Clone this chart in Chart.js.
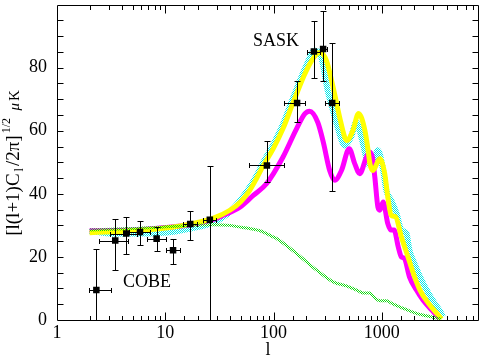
<!DOCTYPE html>
<html><head><meta charset="utf-8">
<script src="https://cdn.jsdelivr.net/npm/chart.js@4/dist/chart.umd.min.js"></script>
<style>html,body{margin:0;padding:0;background:#fff;}canvas{display:block;}</style>
</head><body>
<canvas id="c" width="487" height="362"></canvas>
<script>
// ---- data ----
const xTickLabels = [1, 10, 100, 1000];
const yTickLabels = [0, 20, 40, 60, 80];

const yellowL = [2, 3.3, 6.7, 11.9, 16.9, 27.5, 39.5, 50, 60, 70, 80, 100, 122, 152, 201, 250, 270, 308, 355, 408, 454, 475, 541, 610, 698, 747, 777, 828, 958, 1064, 1135, 1221, 1340, 1517, 1745, 1954, 2250, 2695, 3430, 3550];
const yellowY = [27.7, 28.0, 28.6, 29.5, 30.4, 32.2, 34.8, 37.6, 41.0, 45.0, 48.8, 54.5, 60.6, 69.0, 79.1, 84.3, 84.8, 82.2, 73.8, 64.3, 58.0, 56.9, 60.1, 65.5, 60.1, 53.8, 49.5, 47.4, 51.1, 46.4, 39.0, 33.2, 32.7, 26.3, 20.0, 14.8, 9.5, 5.3, 1.0, 0.3];

const magentaL = [2, 5, 10, 16.9, 27.5, 34.3, 48.9, 65, 86, 122, 163, 195, 215, 256, 288, 330, 367, 424, 500, 563, 625, 720, 770, 820, 862, 920, 958, 1030, 1135, 1221, 1300, 1418, 1517, 1620, 1800, 2090, 2400, 2880, 3300, 3400];
const magentaY = [28.3, 28.5, 29.3, 30.2, 31.8, 33.2, 35.8, 39.5, 43.2, 51.6, 60.6, 65.4, 66.2, 62.7, 56.4, 47.4, 44.3, 47.4, 54.3, 49.5, 46.4, 51.6, 53.3, 51.5, 45.3, 35.8, 34.8, 37.4, 30.6, 28.5, 28.5, 23.2, 20.0, 19.5, 13.7, 9.5, 6.3, 3.2, 1.0, 0.5];

const cyanL = [2, 3.3, 6.7, 10.3, 16.9, 27.5, 40, 56, 70, 80, 100, 122, 152, 200, 240, 270, 317, 360, 400, 454, 520, 580, 670, 747, 820, 920, 1030, 1100, 1221, 1370, 1517, 1690, 1800, 2000, 2330, 2700, 3070, 3540, 3650];
const cyanY = [28.2, 27.4, 27.4, 27.7, 29.0, 30.8, 34.5, 40.5, 45.8, 49.8, 55.8, 62.0, 70.5, 80.5, 85.4, 84.3, 72.7, 65.5, 60.0, 55.3, 58.0, 62.7, 55.9, 49.5, 49.0, 53.8, 47.4, 41.1, 37.9, 33.7, 28.5, 27.4, 22.1, 17.9, 12.6, 8.4, 5.3, 2.1, 1.0];

const greenL = [2, 5, 8, 17, 27.7, 39.5, 46, 60, 75, 100, 107, 163, 250, 355, 472, 600, 673, 775, 850, 959, 1110, 1250, 1575, 2090, 2980, 3540];
const greenY = [28.5, 29.0, 29.3, 30.0, 30.2, 30.0, 29.6, 29.0, 28.3, 26.3, 25.8, 21.1, 15.8, 12.1, 10.8, 9.3, 8.6, 8.6, 7.2, 6.1, 6.1, 5.2, 3.7, 2.1, 0.85, 0.3];

const ptL   = [2.31, 3.45, 4.36, 5.84, 8.32, 11.8, 17.0, 25.8, 86.8, 165, 236, 287, 348];
const ptY   = [9.5, 25.2, 27.4, 27.9, 25.8, 22.1, 30.4, 31.8, 49.0, 68.8, 85.1, 85.9, 68.8];
const ptYHi = [22.4, 32.1, 32.8, 31.5, 29.4, 25.8, 34.7, 48.8, 56.8, 75.8, 94.9, 97.9, 87.7];
const ptYLo = [0, 15.8, 20.8, 23.9, 22.0, 17.6, 25.3, 0, 43.7, 62.7, 76.7, 75.8, 40.9];
const ptLLo = [1.99, 2.42, 3.1, 4.6, 6.8, 10.1, 14.6, 22.4, 59, 124, 205, 268, 298];
const ptLHi = [3.15, 4.5, 5.5, 7.2, 10.1, 13.8, 19.5, 29.4, 126, 194, 268, 310, 405];

// ---- helpers ----
const zip = (xs, ys) => xs.map((v, i) => ({x: v, y: ys[i]}));
function checker(color) {
  const c = document.createElement('canvas'); c.width = 2; c.height = 2;
  const g = c.getContext('2d'); g.fillStyle = color;
  g.fillRect(0, 0, 1, 1); g.fillRect(1, 1, 1, 1);
  return g.createPattern(c, 'repeat');
}
const SERIF = "'Liberation Serif', 'Times New Roman', serif";
const isPow10 = v => Math.abs(Math.log10(v) - Math.round(Math.log10(v))) < 1e-9;

const decor = {
  id: 'decor',
  afterDatasetsDraw(chart) {
    const {ctx, scales: {x, y}} = chart;
    ctx.save();
    ctx.strokeStyle = '#000'; ctx.lineWidth = 1;
    ctx.beginPath();
    for (let i = 0; i < ptL.length; i++) {
      const px = Math.round(x.getPixelForValue(ptL[i])) + 0.5;
      const py = Math.round(y.getPixelForValue(ptY[i])) + 0.5;
      const yt = Math.round(y.getPixelForValue(ptYHi[i])) + 0.5;
      const yb = Math.round(y.getPixelForValue(ptYLo[i])) + 0.5;
      ctx.moveTo(px, yt); ctx.lineTo(px, yb);
      ctx.moveTo(px - 3, yt); ctx.lineTo(px + 3, yt);
      if (ptYLo[i] > 0) { ctx.moveTo(px - 3, yb); ctx.lineTo(px + 3, yb); }
      const xl = Math.round(x.getPixelForValue(ptLLo[i])) + 0.5;
      const xr = Math.round(x.getPixelForValue(ptLHi[i])) + 0.5;
      ctx.moveTo(xl, py); ctx.lineTo(xr, py);
      ctx.moveTo(xl, py - 2.5); ctx.lineTo(xl, py + 2.5);
      ctx.moveTo(xr, py - 2.5); ctx.lineTo(xr, py + 2.5);
    }
    ctx.stroke();
    ctx.restore();
  },
  afterDraw(chart) {
    const {ctx, scales: {x, y}} = chart;
    ctx.save();
    ctx.strokeStyle = '#000'; ctx.lineWidth = 1;
    const L = Math.round(x.getPixelForValue(x.min)) + 0.5, R = Math.round(x.getPixelForValue(x.max)) - 0.5;
    const T = Math.round(y.getPixelForValue(y.max)) + 0.5, B = Math.round(y.getPixelForValue(y.min)) + 0.5;
    ctx.beginPath();
    ctx.moveTo(L, T); ctx.lineTo(R, T); ctx.lineTo(R, B); ctx.lineTo(L, B); ctx.closePath();
    x.ticks.forEach(t => {
      const v = t.value;
      if (v <= x.min || v >= x.max) return;
      const px = Math.round(x.getPixelForValue(v)) + 0.5;
      const len = isPow10(v) ? 8 : 4.5;
      ctx.moveTo(px, B); ctx.lineTo(px, B - len);
      ctx.moveTo(px, T); ctx.lineTo(px, T + len);
    });
    y.ticks.forEach(t => {
      const v = t.value;
      if (v <= y.min || v >= y.max) return;
      const py = Math.round(y.getPixelForValue(v)) + 0.5;
      ctx.moveTo(L, py); ctx.lineTo(L + 6, py);
      ctx.moveTo(R, py); ctx.lineTo(R - 6, py);
    });
    ctx.stroke();

    ctx.fillStyle = '#000';
    ctx.textBaseline = 'alphabetic';
    ctx.font = '18px ' + SERIF;
    ctx.fillText('SASK', 253, 46);
    ctx.fillText('COBE', 123, 287);

    // x title
    ctx.textAlign = 'center'; ctx.textBaseline = 'middle';
    ctx.fillText('l', (L + R) / 2, 350);

    // y title with sub/superscripts
    const parts = [
      {t: '[l(l+1)C', f: '19px ' + SERIF, dy: 0},
      {t: 'l', f: '12px ' + SERIF, dy: 4},
      {t: '/2\u03C0]', f: '19px ' + SERIF, dy: 0},
      {t: '1/2', f: '12px ' + SERIF, dy: -9},
      {t: ' ', f: '14px ' + SERIF, dy: 0},
      {t: '\u03BC', f: 'italic 15px ' + SERIF, dy: 0},
      {t: 'K', f: '15px ' + SERIF, dy: 0}
    ];
    ctx.textAlign = 'left'; ctx.textBaseline = 'alphabetic';
    let total = 0;
    parts.forEach(p => { ctx.font = p.f; p.w = ctx.measureText(p.t).width + 2; total += p.w; });
    ctx.translate(19, 162);
    ctx.rotate(-Math.PI / 2);
    let cx = -total / 2;
    parts.forEach(p => { ctx.font = p.f; ctx.fillText(p.t, cx, p.dy); cx += p.w; });
    ctx.restore();
  }
};

new Chart(document.getElementById('c'), {
  type: 'line',
  data: {
    datasets: [
      {data: zip(ptL, ptY), showLine: false, pointStyle: 'rect', pointRadius: 4.6, pointHoverRadius: 4.6,
       backgroundColor: '#000', borderColor: '#000', borderWidth: 0, order: 0},
      {data: zip(greenL, greenY), borderColor: checker('#10d810'), borderWidth: 3, pointRadius: 0,
       cubicInterpolationMode: 'monotone', fill: false, order: 1},
      {data: zip(yellowL, yellowY), borderColor: '#ffff00', borderWidth: 5, pointRadius: 0,
       cubicInterpolationMode: 'monotone', fill: false, order: 2},
      {data: zip(magentaL, magentaY), borderColor: '#ff00ff', borderWidth: 5, pointRadius: 0,
       cubicInterpolationMode: 'monotone', fill: false, order: 3},
      {data: zip(cyanL, cyanY), borderColor: checker('#00e8e8'), borderWidth: 6, pointRadius: 0,
       cubicInterpolationMode: 'monotone', fill: false, order: 4}
    ]
  },
  options: {
    responsive: false, animation: false, devicePixelRatio: 1,
    layout: {padding: {left: 0, right: 8, top: 3.4, bottom: 0}},
    plugins: {legend: {display: false}, tooltip: {enabled: false}},
    scales: {
      x: {
        type: 'logarithmic', min: 1, max: 7900,
        grid: {display: false, drawTicks: false}, border: {display: false},
        ticks: {autoSkip: false, maxRotation: 0, padding: 2, color: '#000',
                font: {family: SERIF, size: 18},
                callback: v => (isPow10(v) && xTickLabels.includes(Math.round(v))) ? String(Math.round(v)) : ''},
        afterFit: s => { s.height = 42; s.paddingLeft = 0; s.paddingRight = 0; }
      },
      y: {
        type: 'linear', min: 0, max: 100,
        grid: {display: false, drawTicks: false}, border: {display: false},
        ticks: {stepSize: 5, autoSkip: false, padding: 10, color: '#000',
                font: {family: SERIF, size: 18},
                callback: v => yTickLabels.includes(v) ? String(v) : ''},
        afterFit: s => { s.width = 57; s.paddingTop = 0; s.paddingBottom = 0; }
      }
    }
  },
  plugins: [decor]
});
</script>
</body></html>
